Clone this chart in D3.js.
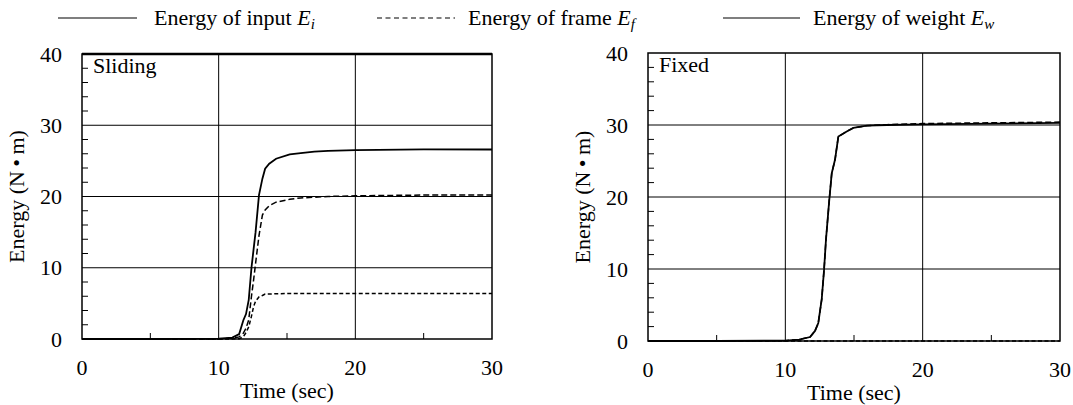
<!DOCTYPE html>
<meta charset="utf-8">
<style>
body { margin: 0; background: #fff; }
svg text { font-family: "Liberation Serif", "Tinos", "Times New Roman", "DejaVu Serif", serif; fill: #000; }
.grid line { stroke: #000; stroke-width: 1px; }
.frame { fill: none; stroke: #000; stroke-width: 1.5px; }
.line-input { fill: none; stroke: #000; stroke-width: 1.8px; }
.line-frame { fill: none; stroke: #000; stroke-width: 1.5px; stroke-dasharray: 6,3; }
.line-weight { fill: none; stroke: #000; stroke-width: 1.5px; stroke-dasharray: 4,2.5; }
</style>
<body>
<script src="https://d3js.org/d3.v7.min.js"></script>
<script>

// ---- data ----
var xTicks = [0, 10, 20, 30];
var yTicks = [0, 10, 20, 30, 40];

// Sliding
var slidingTime   = [0, 5, 10, 11, 11.5, 11.8, 12.0, 12.2, 12.4, 12.55, 12.7, 12.95, 13.2, 13.4, 13.7, 14.2, 15.2, 16, 17, 18, 20, 25, 30];
var slidingInput  = [0, 0, 0.05, 0.2, 0.7, 2.6, 3.5, 5.5, 10, 12.5, 15, 20.2, 22.5, 23.9, 24.6, 25.3, 25.9, 26.1, 26.3, 26.4, 26.5, 26.6, 26.6];
var slidingFrame  = [0, 0, 0, 0.1, 0.3, 0.8, 1.5, 2.7, 6.0, 8.2, 10.6, 14.5, 17.4, 18.1, 18.7, 19.2, 19.6, 19.8, 19.9, 20.0, 20.1, 20.2, 20.2];
var slidingWeight = [0, 0, 0, 0, 0.05, 0.3, 0.9, 1.7, 3.2, 4.5, 5.3, 5.9, 6.1, 6.3, 6.3, 6.35, 6.4, 6.4, 6.4, 6.4, 6.4, 6.4, 6.4];

// Fixed
var fixedTime   = [0, 5, 10, 11, 11.8, 12.16, 12.4, 12.65, 12.82, 12.96, 13.2, 13.38, 13.62, 13.86, 14.47, 14.95, 15.93, 17.4, 20, 25, 30];
var fixedInput  = [0, 0, 0.05, 0.2, 0.55, 1.4, 2.5, 5.8, 9.9, 14.1, 19.6, 23.3, 25.2, 28.4, 29.1, 29.6, 29.9, 30.0, 30.1, 30.2, 30.3];
var fixedFrame  = [0, 0, 0.05, 0.2, 0.55, 1.4, 2.5, 5.8, 9.9, 14.1, 19.6, 23.3, 25.2, 28.4, 29.1, 29.6, 29.9, 30.05, 30.2, 30.3, 30.4];
var fixedWeight = [0, 0, 0, 0, 0, 0, 0, 0, 0, 0, 0, 0, 0, 0, 0, 0, 0, 0, 0, 0, 0];

var svg = d3.select("body").append("svg")
    .attr("width", 1073)
    .attr("height", 405);

var FONT = "Liberation Serif, Tinos, Times New Roman, DejaVu Serif, serif";

// ---- legend ----
var legend = [
  {label: "Energy of input ", sub: "i", dashed: false, x1: 58, x2: 137, tx: 154},
  {label: "Energy of frame ", sub: "f", dashed: true, x1: 377, x2: 455, tx: 468},
  {label: "Energy of weight ", sub: "w", dashed: false, x1: 723, x2: 800, tx: 813}
];
legend.forEach(function(d) {
  var l = svg.append("line")
      .attr("x1", d.x1).attr("x2", d.x2)
      .attr("y1", 18).attr("y2", 18)
      .style("stroke", "#000")
      .style("stroke-width", 1.2);
  if (d.dashed) l.style("stroke-dasharray", "5,3.5");
  var t = svg.append("text")
      .attr("x", d.tx).attr("y", 25)
      .attr("font-family", FONT)
      .style("font-size", "22px");
  t.append("tspan").text(d.label);
  t.append("tspan").style("font-style", "italic").text("E");
  t.append("tspan").style("font-style", "italic").style("font-size", "15px")
      .attr("dy", 4).text(d.sub);
});

// ---- panels ----
function drawPanel(p) {
  var x = d3.scaleLinear().domain([0, 30]).range([p.left, p.right]);
  var y = d3.scaleLinear().domain([0, 40]).range([p.bottom, p.top]);

  var g = svg.append("g").attr("font-family", FONT);

  // grid
  var grid = g.append("g").attr("class", "grid");
  grid.selectAll(".gx").data([10, 20]).enter().append("line")
      .attr("x1", function(d) { return x(d); }).attr("x2", function(d) { return x(d); })
      .attr("y1", y(0)).attr("y2", y(40));
  grid.selectAll(".gy").data([10, 20, 30]).enter().append("line")
      .attr("y1", function(d) { return y(d); }).attr("y2", function(d) { return y(d); })
      .attr("x1", x(0)).attr("x2", x(30));

  // inner minor ticks
  var minorY = d3.range(2, 40, 2).filter(function(d) { return d % 10 != 0; });
  g.selectAll(".my").data(minorY).enter().append("line")
      .attr("x1", x(0)).attr("x2", x(0) + 6)
      .attr("y1", function(d) { return y(d); }).attr("y2", function(d) { return y(d); })
      .style("stroke", "#000").style("stroke-width", 1);
  g.selectAll(".mx").data([5, 15, 25]).enter().append("line")
      .attr("x1", function(d) { return x(d); }).attr("x2", function(d) { return x(d); })
      .attr("y1", y(0)).attr("y2", y(0) - 6)
      .style("stroke", "#000").style("stroke-width", 1);

  // series
  var series = [
    {t: p.time, v: p.weight, cls: "line-weight"},
    {t: p.time, v: p.frame, cls: "line-frame"},
    {t: p.time, v: p.input, cls: "line-input"}
  ];
  var line = d3.line()
      .x(function(d) { return x(d[0]); })
      .y(function(d) { return y(d[1]); });
  series.forEach(function(s) {
    g.append("path")
        .datum(d3.zip(s.t, s.v))
        .attr("class", s.cls)
        .attr("d", line);
  });

  // plot frame
  g.append("rect")
      .attr("class", "frame")
      .attr("x", x(0)).attr("y", y(40))
      .attr("width", x(30) - x(0)).attr("height", y(0) - y(40));
  if (p.heavyTop) {
    g.append("line")
        .attr("x1", x(0)).attr("x2", x(30))
        .attr("y1", y(40)).attr("y2", y(40))
        .style("stroke", "#000").style("stroke-width", 2.5);
  }

  // tick labels
  g.selectAll(".yl").data(yTicks).enter().append("text")
      .attr("x", x(0) - 20)
      .attr("y", function(d) { return y(d); })
      .attr("dy", "0.35em")
      .attr("text-anchor", "end")
      .style("font-size", "22px")
      .text(function(d) { return d; });
  g.selectAll(".xl").data(xTicks).enter().append("text")
      .attr("x", function(d) { return x(d); })
      .attr("y", y(0) + 36)
      .attr("text-anchor", "middle")
      .style("font-size", "22px")
      .text(function(d) { return d; });

  // axis titles
  g.append("text")
      .attr("x", (x(0) + x(30)) / 2)
      .attr("y", y(0) + 59)
      .attr("text-anchor", "middle")
      .style("font-size", "22px")
      .text("Time (sec)");
  g.append("text")
      .attr("transform", "translate(" + (x(0) - 58) + "," + ((y(0) + y(40)) / 2) + ") rotate(-90)")
      .attr("text-anchor", "middle")
      .style("font-size", "22px")
      .text("Energy (N\u2009\u2022\u2009m)");

  // panel name
  g.append("text")
      .attr("x", x(0) + 11)
      .attr("y", y(40) + 19)
      .style("font-size", "22px")
      .text(p.name);
}

drawPanel({name: "Sliding", left: 82, right: 492, top: 54, bottom: 339, heavyTop: true,
  time: slidingTime, input: slidingInput, frame: slidingFrame, weight: slidingWeight});
drawPanel({name: "Fixed", left: 648, right: 1060, top: 53, bottom: 341, heavyTop: false,
  time: fixedTime, input: fixedInput, frame: fixedFrame, weight: fixedWeight});

</script>
</body>
